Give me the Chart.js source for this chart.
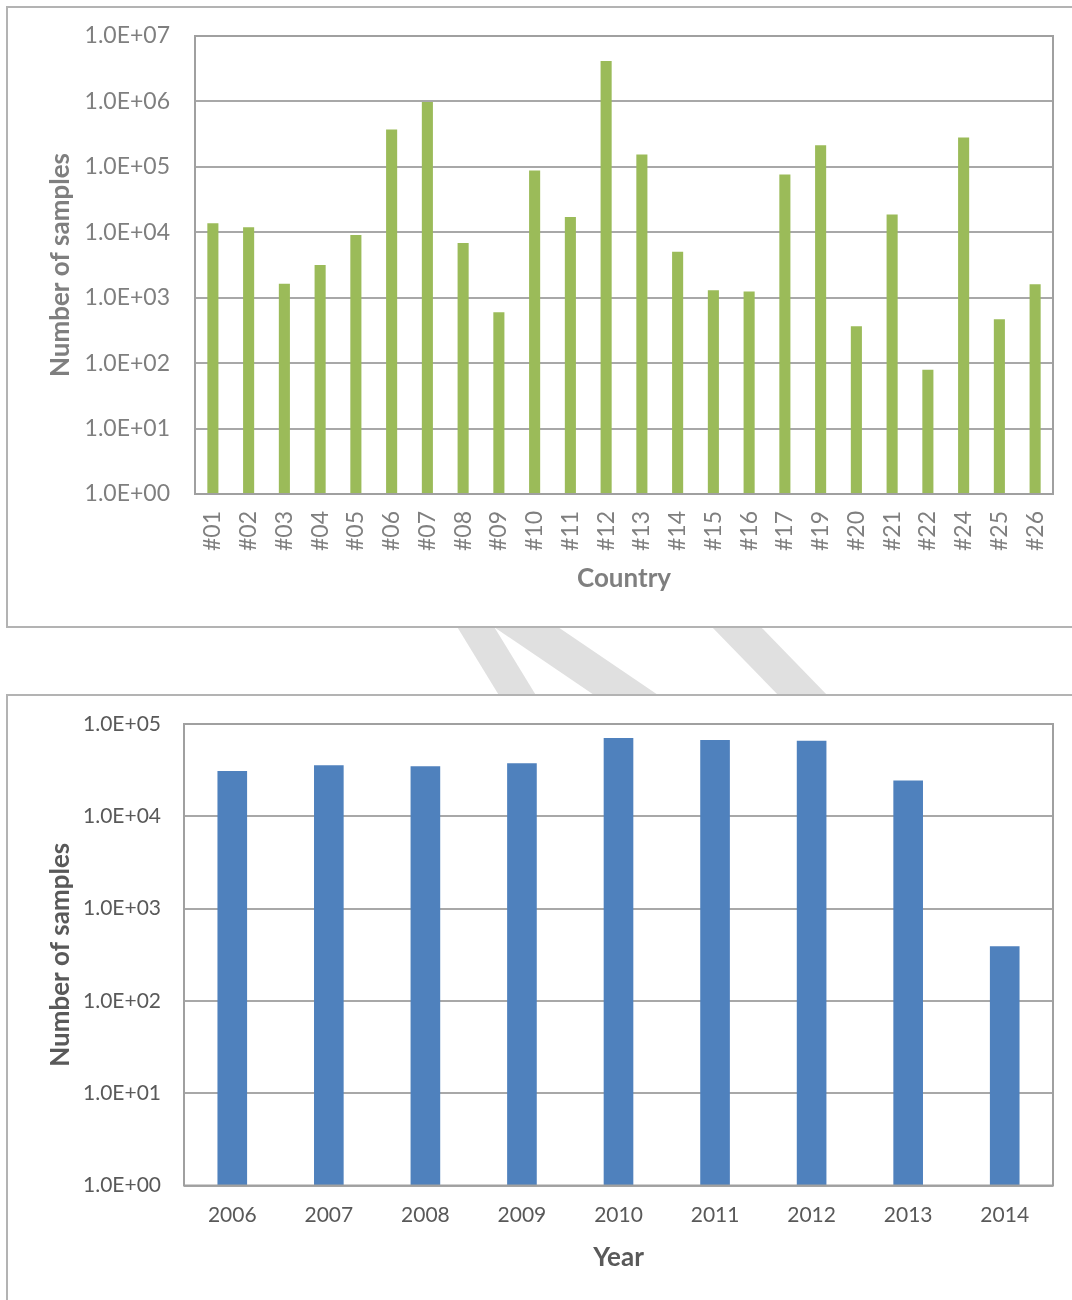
<!DOCTYPE html>
<html>
<head>
<meta charset="utf-8">
<title>Number of samples</title>
<script src="https://cdn.jsdelivr.net/npm/chart.js@4.4.1/dist/chart.umd.min.js"></script>
<style>
  html, body { margin: 0; padding: 0; background: #fff; }
  body { width: 1072px; height: 1300px; position: relative; overflow: hidden; }
  #stripes { position: absolute; left: 0; top: 0; }
  .panel { position: absolute; left: 6px; width: 1090px; background: #fff; border: 2px solid #b3b3b3; box-sizing: border-box; }
  #panelTop { top: 6px; height: 622px; }
  #panelBottom { top: 694px; height: 700px; }
  .holder { position: absolute; left: 8px; }
  #holderTop { top: 8px; }
  #holderBottom { top: 696px; }
</style>
</head>
<body>
<!-- faint diagonal stripes showing in the gap between the two panels -->
<svg id="stripes" width="1072" height="1300">
  <g fill="#e0e0e0">
    <polygon points="456,625 493,625 537,697 500,697"/>
    <polygon points="491,625 555,625 661,697 597,697"/>
    <polygon points="710,625 759,625 829,697 780,697"/>
  </g>
</svg>
<div class="panel" id="panelTop"></div>
<div class="panel" id="panelBottom"></div>
<div class="holder" id="holderTop"><canvas id="countryChart" width="1064" height="618"></canvas></div>
<div class="holder" id="holderBottom"><canvas id="yearChart" width="1064" height="604"></canvas></div>

<script>
// samples per country (log scale)
const countries = [
  "#01", "#02", "#03", "#04", "#05", "#06", "#07", "#08", "#09", "#10", "#11", "#12",
  "#13", "#14", "#15", "#16", "#17", "#19", "#20", "#21", "#22", "#24", "#25", "#26"
];
const countrySamples = [
  13800, 11900, 1640, 3160, 9060, 372000, 980000, 6840, 598, 88000, 17100, 4150000,
  155000, 5040, 1300, 1240, 76500, 214000, 366, 18700, 79, 281000, 468, 1600
];
const countryTickValues = [1, 10, 100, 1000, 10000, 100000, 1000000, 10000000];
const countryTickLabels = ["1.0E+00", "1.0E+01", "1.0E+02", "1.0E+03", "1.0E+04", "1.0E+05", "1.0E+06", "1.0E+07"];

// samples per year
const years = ["2006", "2007", "2008", "2009", "2010", "2011", "2012", "2013", "2014"];
const yearSamples = [31000, 35700, 34800, 37500, 70500, 67100, 65900, 24500, 391];
const yearTickValues = [1, 10, 100, 1000, 10000, 100000];
const yearTickLabels = ["1.0E+00", "1.0E+01", "1.0E+02", "1.0E+03", "1.0E+04", "1.0E+05"];

Chart.defaults.font.family = "Lato, 'Open Sans', sans-serif";
Chart.defaults.animation = false;

// box round the plot area, like the spreadsheet frame
const plotFrame = {
  id: 'plotFrame',
  afterDatasetsDraw(chart, args, opts) {
    const { ctx, chartArea: a } = chart;
    ctx.save();
    ctx.strokeStyle = opts.color || '#a0a0a0';
    ctx.lineWidth = 2;
    ctx.strokeRect(a.left, a.top, a.right - a.left, a.bottom - a.top);
    ctx.restore();
  }
};

// keep the plot area where the layout padding puts it
function noOverhang(s) {
  s.paddingTop = 0;
  s.paddingBottom = 0;
  s.paddingLeft = 0;
  s.paddingRight = 0;
}

function logAxis(values, labels, o) {
  return {
    type: 'logarithmic',
    min: values[0],
    max: values[values.length - 1],
    afterBuildTicks: s => { s.ticks = values.map(v => ({ value: v })); },
    afterFit: s => { s.width = o.width; noOverhang(s); },
    ticks: {
      padding: o.pad,
      color: o.color,
      font: { size: o.size },
      callback: (v, i) => labels[i]
    },
    grid: { color: '#a8a8a8', lineWidth: 2, drawTicks: false },
    border: { display: false },
    title: {
      display: true,
      text: 'Number of samples',
      color: o.color,
      font: { size: o.titleSize, weight: 'bold' },
      padding: { top: o.titlePad, bottom: 0 }
    }
  };
}

new Chart(document.getElementById('countryChart'), {
  type: 'bar',
  data: {
    labels: countries,
    datasets: [{
      data: countrySamples,
      backgroundColor: '#9bbb59',
      barPercentage: 0.31,
      categoryPercentage: 1.0
    }]
  },
  options: {
    responsive: false,
    layout: { padding: { top: 28, right: 19, left: 0, bottom: 0 } },
    plugins: {
      legend: { display: false },
      tooltip: { enabled: false },
      plotFrame: { color: '#a0a0a0' }
    },
    scales: {
      x: {
        grid: { display: false, drawTicks: false },
        border: { display: false },
        afterFit: s => { s.height = 132; noOverhang(s); },
        ticks: {
          color: '#7f7f7f',
          font: { size: 23 },
          minRotation: 90,
          maxRotation: 90,
          autoSkip: false,
          padding: 17
        },
        title: {
          display: true,
          text: 'Country',
          color: '#7f7f7f',
          font: { size: 26, weight: 'bold' },
          padding: { top: 0, bottom: 32 }
        }
      },
      y: logAxis(countryTickValues, countryTickLabels, {
        width: 187, pad: 25, color: '#7f7f7f', size: 23, titleSize: 26, titlePad: 37
      })
    }
  },
  plugins: [plotFrame]
});

new Chart(document.getElementById('yearChart'), {
  type: 'bar',
  data: {
    labels: years,
    datasets: [{
      data: yearSamples,
      backgroundColor: '#4f81bd',
      barPercentage: 0.307,
      categoryPercentage: 1.0
    }]
  },
  options: {
    responsive: false,
    layout: { padding: { top: 28, right: 19, left: 0, bottom: 0 } },
    plugins: {
      legend: { display: false },
      tooltip: { enabled: false },
      plotFrame: { color: '#a0a0a0' }
    },
    scales: {
      x: {
        grid: { display: false, drawTicks: false },
        border: { display: false },
        afterFit: s => { s.height = 114.5; noOverhang(s); },
        ticks: {
          color: '#595959',
          font: { size: 21 },
          maxRotation: 0,
          autoSkip: false,
          padding: 17
        },
        title: {
          display: true,
          text: 'Year',
          color: '#595959',
          font: { size: 26, weight: 'bold' },
          padding: { top: 0, bottom: 27 }
        }
      },
      y: logAxis(yearTickValues, yearTickLabels, {
        width: 176, pad: 23, color: '#595959', size: 21, titleSize: 26, titlePad: 37
      })
    }
  },
  plugins: [plotFrame]
});
</script>
</body>
</html>
